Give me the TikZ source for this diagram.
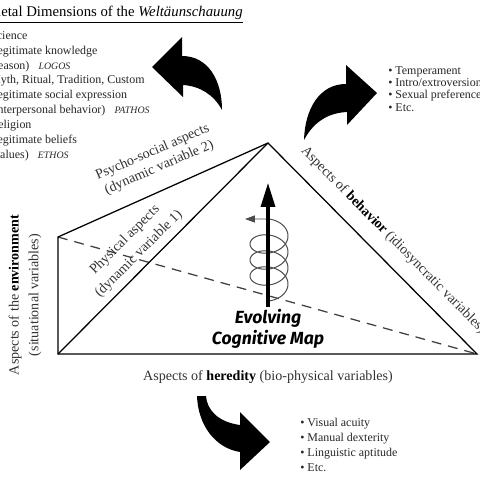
\documentclass[tikz,border=0pt]{standalone}
\usepackage{fontspec}
\setmainfont{Liberation Serif}
\newfontfamily\mapfont{Fira Sans}
\usetikzlibrary{arrows.meta}

\begin{document}
\begin{tikzpicture}[x=0.025cm,y=-0.025cm,
  edge/.style={line width=0.9pt},
  hidden/.style={line width=0.9pt,dash pattern=on 7pt off 5pt,black!75},
  lab/.style={font=\fontsize{10}{12}\selectfont,text=black!80,
              inner sep=0pt,align=center},
  list/.style={font=\fontsize{8.5}{10.6}\selectfont,text=black!85,
               inner sep=0pt,align=left,anchor=north west},
  bigarrow/.style={fill=black,draw=none}]

  \useasboundingbox (0,0) rectangle (480,480);
  \clip (0,0) rectangle (480,480);

  % corners of the pyramid
  \coordinate (apex) at (268,143);
  \coordinate (lt) at (58,237);
  \coordinate (lb) at (58,354);
  \coordinate (rb) at (477,354);

  \draw[hidden] (lt) -- (rb);
  \draw[edge] (lt) -- (apex) -- (rb) -- (lb) -- cycle;
  \draw[edge] (lb) -- (apex);

  % spiral round the growth axis
  \coordinate (base) at (268,307);
  \coordinate (top) at (268,183);
  \draw[black!70,line width=0.7pt,-{Triangle[length=7pt,width=5pt]}]
    plot[variable=\t,domain=0:1260,samples=180,smooth]
      ({269+19*sin(\t)},{288-\t/22.5+13*cos(\t)}) -- ++(-24,0);
  \draw[line width=2.2pt,-{Triangle[length=17pt,width=10pt]}] (base) -- (top);

  \node[font={\mapfont\fontsize{12.5}{15}\selectfont\bfseries\itshape},
        align=center,inner sep=0pt] (map) at (268,329)
    {Evolving\\Cognitive Map};

  % faces and edges
  \node[lab,rotate=23.5] (psy) at (156,160)
    {Psycho-social aspects\\(dynamic variable 2)};
  \node[lab,rotate=45,font=\fontsize{10}{14}\selectfont] (phy) at (132,247)
    {Physical aspects\\(dynamic variable 1)};
  \node[lab,rotate=90,font=\fontsize{10}{14}\selectfont] (env) at (25,295)
    {Aspects of the \textcolor{black}{\textbf{environment}}\\(situational variables)};
  \node[lab] (her) at (268,377)
    {Aspects of \textcolor{black}{\textbf{heredity}} (bio-physical variables)};
  \node[lab,rotate=-45.3,anchor=west] (beh) at (303,149)
    {Aspects of \textcolor{black}{\textbf{behavior}} (idiosyncratic variables)};

  % societal dimensions
  \node[font=\fontsize{10.5}{12}\selectfont,anchor=base east,inner sep=0pt]
    (title) at (243,17)
    {\underline{Societal Dimensions of the \textit{Weltäunschauung}}};
  \node[list] (soc) at (-10,31)
    {Science\\
     Legitimate knowledge\\
     (reason)\hspace{6.5pt}{\fontsize{7}{7}\selectfont\itshape LOGOS}\\
     Myth, Ritual, Tradition, Custom\\
     Legitimate social expression\\
     (interpersonal behavior)\hspace{6.5pt}{\fontsize{7}{7}\selectfont\itshape PATHOS}\\
     Religion\\
     Legitimate beliefs\\
     (values)\hspace{6.5pt}{\fontsize{7}{7}\selectfont\itshape ETHOS}};

  \node[list,font=\fontsize{8.5}{8.8}\selectfont] (temper) at (388,66)
    {\textbullet\ Temperament\\
     \textbullet\ Intro/extroversion\\
     \textbullet\ Sexual preference\\
     \textbullet\ Etc.};
  \node[list] (skills) at (300,418)
    {\textbullet\ Visual acuity\\
     \textbullet\ Manual dexterity\\
     \textbullet\ Linguistic aptitude\\
     \textbullet\ Etc.};

  % curved block arrows
  \fill[bigarrow] (152,67) -- (182,37) -- (182,56)
    .. controls (208,56) and (222,80) .. (222,110)
    .. controls (214,95) and (200,86) .. (183,85) -- (183,97) -- cycle;
  \fill[bigarrow] (377,93) -- (346,65) -- (346,84)
    .. controls (320,84) and (305,108) .. (304,140)
    .. controls (312,125) and (325,113) .. (347,112) -- (347,125) -- cycle;
  \fill[bigarrow] (270,442) -- (240,412) -- (240,425)
    .. controls (218,422) and (207,410) .. (206,396) -- (197,396)
    .. controls (198,425) and (215,448) .. (240,452) -- (240,470) -- cycle;
\end{tikzpicture}
\end{document}
